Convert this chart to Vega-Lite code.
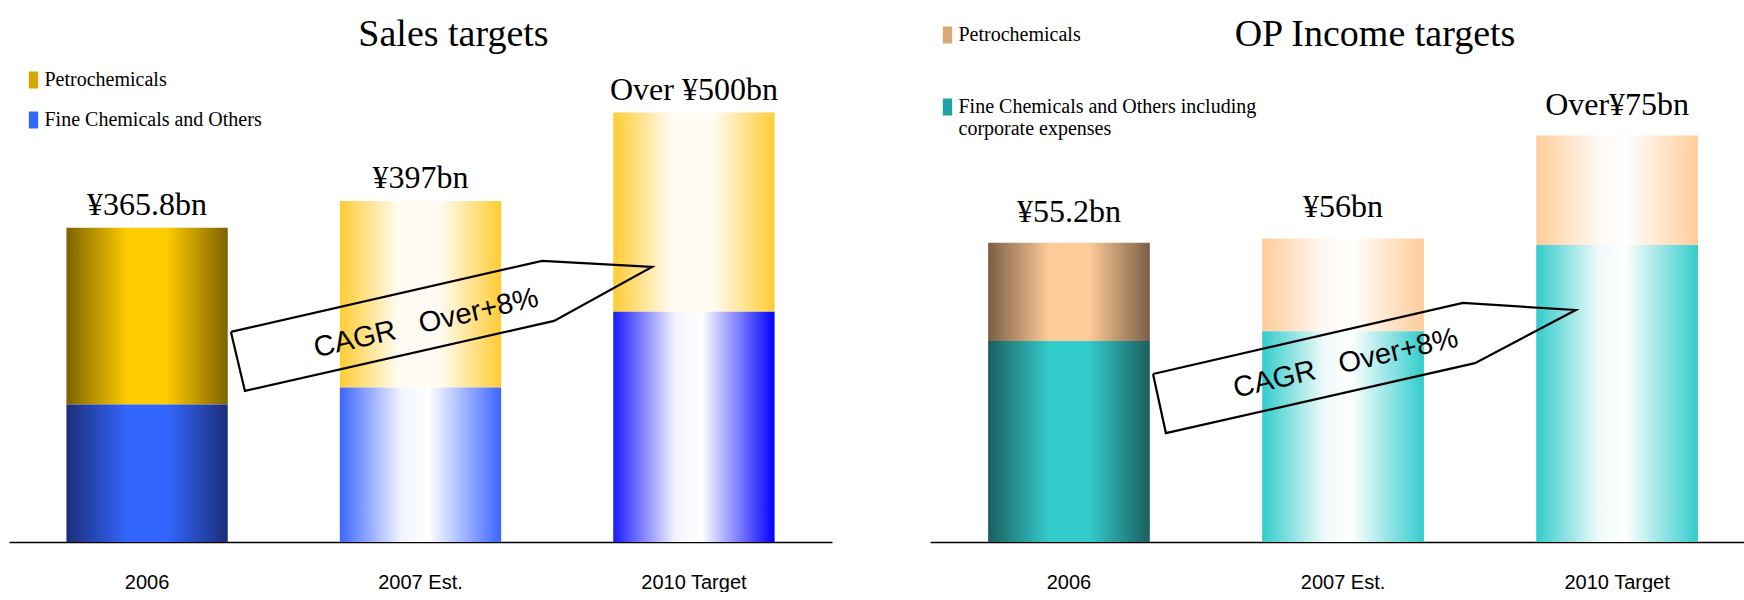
{
  "$schema": "https://vega.github.io/schema/vega-lite/v6.json",
  "background": "white",
  "padding": {"left": 9, "top": 0, "right": 0, "bottom": 0},
  "bounds": "flush",
  "spacing": 98,
  "config": {"view": {"stroke": null}, "font": "Liberation Serif"},
  "datasets": {
    "sales": [
      {"year": "2006", "segment": "Fine Chemicals and Others", "value": 160},
      {"year": "2006", "segment": "Petrochemicals", "value": 205.8},
      {"year": "2007 Est.", "segment": "Fine Chemicals and Others", "value": 180},
      {"year": "2007 Est.", "segment": "Petrochemicals", "value": 217},
      {"year": "2010 Target", "segment": "Fine Chemicals and Others", "value": 268},
      {"year": "2010 Target", "segment": "Petrochemicals", "value": 232}
    ],
    "salesTotals": [
      {"year": "2006", "total": 365.8, "label": "¥365.8bn"},
      {"year": "2007 Est.", "total": 397, "label": "¥397bn"},
      {"year": "2010 Target", "total": 500, "label": "Over ¥500bn"}
    ],
    "salesArrow": [
      {"i": 0, "x": 0.309, "y": 244.6},
      {"i": 1, "x": 1.443, "y": 327.3},
      {"i": 2, "x": 1.844, "y": 320.3},
      {"i": 3, "x": 1.487, "y": 257.4},
      {"i": 4, "x": 0.36, "y": 175.9},
      {"i": 5, "x": 0.309, "y": 244.6}
    ],
    "salesCagr": [{"x": 1.02, "y": 255, "label": "CAGR\u00a0\u00a0\u00a0Over+8%"}],
    "op": [
      {"year": "2006", "segment": "Fine Chemicals and Others including corporate expenses", "value": 37.1},
      {"year": "2006", "segment": "Petrochemicals", "value": 18.1},
      {"year": "2007 Est.", "segment": "Fine Chemicals and Others including corporate expenses", "value": 38.9},
      {"year": "2007 Est.", "segment": "Petrochemicals", "value": 17.1},
      {"year": "2010 Target", "segment": "Fine Chemicals and Others including corporate expenses", "value": 54.8},
      {"year": "2010 Target", "segment": "Petrochemicals", "value": 20.2}
    ],
    "opTotals": [
      {"year": "2006", "total": 55.2, "label": "¥55.2bn"},
      {"year": "2007 Est.", "total": 56, "label": "¥56bn"},
      {"year": "2010 Target", "total": 75, "label": "Over¥75bn"}
    ],
    "opArrow": [
      {"i": 0, "x": 0.307, "y": 31.0},
      {"i": 1, "x": 1.438, "y": 44.1},
      {"i": 2, "x": 1.85, "y": 42.8},
      {"i": 3, "x": 1.482, "y": 33.0},
      {"i": 4, "x": 0.354, "y": 20.1},
      {"i": 5, "x": 0.307, "y": 31.0}
    ],
    "opCagr": [{"x": 1.01, "y": 33.0, "label": "CAGR\u00a0\u00a0\u00a0Over+8%"}]
  },
  "resolve": {
    "scale": {"color": "independent", "y": "independent", "x": "independent"},
    "legend": {"color": "independent"}
  },
  "hconcat": [
    {
      "width": 823,
      "height": 542,
      "title": {"text": "Sales targets", "font": "Liberation Serif", "fontSize": 38, "fontWeight": "normal", "color": "black", "baseline": "alphabetic", "offset": -84, "dx": 33, "anchor": "middle", "frame": "group"},
      "resolve": {"scale": {"x": "independent"}},
      "layer": [
        {
          "data": {"name": "sales"},
          "transform": [
            {"stack": "value", "groupby": ["year"], "sort": [{"field": "segment", "order": "ascending"}], "as": ["y0", "y1"]}
          ],
          "encoding": {
            "x": {
              "field": "year", "type": "nominal", "sort": null,
              "scale": {"domain": ["2006", "2007 Est.", "2010 Target"], "paddingInner": 0.41, "paddingOuter": 0.21},
              "axis": {"title": null, "domain": true, "domainColor": "black", "domainWidth": 1.5, "ticks": false, "tickSize": 0, "grid": false, "labelAngle": 0, "labelPadding": 30, "labelFont": "Liberation Sans", "labelFontSize": 20, "labelColor": "black"}
            }
          },
          "layer": [
            {
              "transform": [{"filter": "datum.year === '2006' && datum.segment === 'Petrochemicals'"}],
              "mark": {"type": "bar", "fill": {"gradient": "linear", "x1": 0, "y1": 0, "x2": 1, "y2": 0, "stops": [{"offset": 0, "color": "#7d6300"}, {"offset": 0.38, "color": "#ffcc00"}, {"offset": 0.62, "color": "#ffcc00"}, {"offset": 1, "color": "#7d6300"}]}},
              "encoding": {"y": {"field": "y1", "type": "quantitative", "scale": {"domain": [0, 631], "nice": false}, "axis": null}, "y2": {"field": "y0"}}
            },
            {
              "transform": [{"filter": "datum.year === '2006' && datum.segment !== 'Petrochemicals'"}],
              "mark": {"type": "bar", "fill": {"gradient": "linear", "x1": 0, "y1": 0, "x2": 1, "y2": 0, "stops": [{"offset": 0, "color": "#1b2e78"}, {"offset": 0.38, "color": "#3366ff"}, {"offset": 0.62, "color": "#3366ff"}, {"offset": 1, "color": "#1b2e78"}]}},
              "encoding": {"y": {"field": "y1", "type": "quantitative", "scale": {"domain": [0, 631], "nice": false}, "axis": null}, "y2": {"field": "y0"}}
            },
            {
              "transform": [{"filter": "datum.year !== '2006' && datum.segment === 'Petrochemicals'"}],
              "mark": {"type": "bar", "fill": {"gradient": "linear", "x1": 0, "y1": 0, "x2": 1, "y2": 0, "stops": [{"offset": 0, "color": "#ffcc33"}, {"offset": 0.36, "color": "#fffbf2"}, {"offset": 0.62, "color": "#fffbf2"}, {"offset": 1, "color": "#ffcc33"}]}},
              "encoding": {"y": {"field": "y1", "type": "quantitative", "scale": {"domain": [0, 631], "nice": false}, "axis": null}, "y2": {"field": "y0"}}
            },
            {
              "transform": [{"filter": "datum.year === '2007 Est.' && datum.segment !== 'Petrochemicals'"}],
              "mark": {"type": "bar", "fill": {"gradient": "linear", "x1": 0, "y1": 0, "x2": 1, "y2": 0, "stops": [{"offset": 0, "color": "#3d66ff"}, {"offset": 0.38, "color": "#f2f4ff"}, {"offset": 0.55, "color": "#ffffff"}, {"offset": 1, "color": "#3d66ff"}]}},
              "encoding": {"y": {"field": "y1", "type": "quantitative", "scale": {"domain": [0, 631], "nice": false}, "axis": null}, "y2": {"field": "y0"}}
            },
            {
              "transform": [{"filter": "datum.year === '2010 Target' && datum.segment !== 'Petrochemicals'"}],
              "mark": {"type": "bar", "fill": {"gradient": "linear", "x1": 0, "y1": 0, "x2": 1, "y2": 0, "stops": [{"offset": 0, "color": "#1a1aff"}, {"offset": 0.38, "color": "#f2f2ff"}, {"offset": 0.55, "color": "#ffffff"}, {"offset": 1, "color": "#0000ff"}]}},
              "encoding": {"y": {"field": "y1", "type": "quantitative", "scale": {"domain": [0, 631], "nice": false}, "axis": null}, "y2": {"field": "y0"}}
            },
            {
              "mark": {"type": "square", "size": 0, "opacity": 1, "filled": true},
              "encoding": {
                "y": {"field": "y1", "type": "quantitative", "scale": {"domain": [0, 631], "nice": false}, "axis": null},
                "color": {
                  "field": "segment", "type": "nominal",
                  "scale": {"domain": ["Petrochemicals", "Fine Chemicals and Others"], "range": ["#d4a800", "#3366ff"]},
                  "legend": {"title": null, "orient": "none", "legendX": 14.5, "legendY": 70, "symbolType": "M-0.55,-1H0.55V1H-0.55Z", "symbolSize": 289, "symbolStrokeWidth": 0, "symbolOpacity": 1, "labelFont": "Liberation Serif", "labelFontSize": 20, "labelColor": "black", "labelOffset": 1, "labelBaseline": "middle", "rowPadding": 20, "labelLimit": 400}
                }
              }
            },
            {
              "data": {"name": "salesTotals"},
              "mark": {"type": "text", "font": "Liberation Serif", "fontSize": 32, "color": "black", "baseline": "middle", "dy": -23},
              "encoding": {
                "y": {"field": "total", "type": "quantitative", "scale": {"domain": [0, 631], "nice": false}, "axis": null},
                "text": {"field": "label"}
              }
            }
          ]
        },
        {
          "layer": [
            {
              "data": {"name": "salesArrow"},
              "mark": {"type": "line", "stroke": "black", "strokeWidth": 2.2, "strokeJoin": "miter"},
              "encoding": {
                "x": {"field": "x", "type": "quantitative", "scale": {"domain": [-0.5, 2.5], "nice": false, "zero": false}, "axis": null},
                "y": {"field": "y", "type": "quantitative", "scale": {"domain": [0, 631], "nice": false}, "axis": null},
                "order": {"field": "i"}
              }
            },
            {
              "data": {"name": "salesCagr"},
              "mark": {"type": "text", "font": "Liberation Sans", "fontSize": 29, "color": "black", "angle": 347, "align": "center", "baseline": "middle"},
              "encoding": {
                "x": {"field": "x", "type": "quantitative", "scale": {"domain": [-0.5, 2.5], "nice": false, "zero": false}, "axis": null},
                "y": {"field": "y", "type": "quantitative", "scale": {"domain": [0, 631], "nice": false}, "axis": null},
                "text": {"field": "label"}
              }
            }
          ]
        }
      ]
    },
    {
      "width": 814,
      "height": 542,
      "title": {"text": "OP Income targets", "font": "Liberation Serif", "fontSize": 38, "fontWeight": "normal", "color": "black", "baseline": "alphabetic", "offset": -84, "dx": 38, "anchor": "middle", "frame": "group"},
      "resolve": {"scale": {"x": "independent"}},
      "layer": [
        {
          "data": {"name": "op"},
          "transform": [
            {"stack": "value", "groupby": ["year"], "sort": [{"field": "segment", "order": "ascending"}], "as": ["y0", "y1"]}
          ],
          "encoding": {
            "x": {
              "field": "year", "type": "nominal", "sort": null,
              "scale": {"domain": ["2006", "2007 Est.", "2010 Target"], "paddingInner": 0.41, "paddingOuter": 0.19, "align": 0.558},
              "axis": {"title": null, "domain": true, "domainColor": "black", "domainWidth": 1.5, "ticks": false, "tickSize": 0, "grid": false, "labelAngle": 0, "labelPadding": 30, "labelFont": "Liberation Sans", "labelFontSize": 20, "labelColor": "black"}
            }
          },
          "layer": [
            {
              "transform": [{"filter": "datum.year === '2006' && datum.segment === 'Petrochemicals'"}],
              "mark": {"type": "bar", "fill": {"gradient": "linear", "x1": 0, "y1": 0, "x2": 1, "y2": 0, "stops": [{"offset": 0, "color": "#7b5e46"}, {"offset": 0.38, "color": "#ffcc99"}, {"offset": 0.62, "color": "#ffcc99"}, {"offset": 1, "color": "#7b5e46"}]}},
              "encoding": {"y": {"field": "y1", "type": "quantitative", "scale": {"domain": [0, 100], "nice": false}, "axis": null}, "y2": {"field": "y0"}}
            },
            {
              "transform": [{"filter": "datum.year === '2006' && datum.segment !== 'Petrochemicals'"}],
              "mark": {"type": "bar", "fill": {"gradient": "linear", "x1": 0, "y1": 0, "x2": 1, "y2": 0, "stops": [{"offset": 0, "color": "#1a5f5f"}, {"offset": 0.38, "color": "#33cccc"}, {"offset": 0.62, "color": "#33cccc"}, {"offset": 1, "color": "#1a5f5f"}]}},
              "encoding": {"y": {"field": "y1", "type": "quantitative", "scale": {"domain": [0, 100], "nice": false}, "axis": null}, "y2": {"field": "y0"}}
            },
            {
              "transform": [{"filter": "datum.year !== '2006' && datum.segment === 'Petrochemicals'"}],
              "mark": {"type": "bar", "fill": {"gradient": "linear", "x1": 0, "y1": 0, "x2": 1, "y2": 0, "stops": [{"offset": 0, "color": "#ffcc99"}, {"offset": 0.38, "color": "#fff8f2"}, {"offset": 0.55, "color": "#ffffff"}, {"offset": 1, "color": "#ffcc99"}]}},
              "encoding": {"y": {"field": "y1", "type": "quantitative", "scale": {"domain": [0, 100], "nice": false}, "axis": null}, "y2": {"field": "y0"}}
            },
            {
              "transform": [{"filter": "datum.year !== '2006' && datum.segment !== 'Petrochemicals'"}],
              "mark": {"type": "bar", "fill": {"gradient": "linear", "x1": 0, "y1": 0, "x2": 1, "y2": 0, "stops": [{"offset": 0, "color": "#33cccc"}, {"offset": 0.38, "color": "#eef9f9"}, {"offset": 0.55, "color": "#ffffff"}, {"offset": 1, "color": "#33cccc"}]}},
              "encoding": {"y": {"field": "y1", "type": "quantitative", "scale": {"domain": [0, 100], "nice": false}, "axis": null}, "y2": {"field": "y0"}}
            },
            {
              "mark": {"type": "square", "size": 0, "opacity": 1, "filled": true},
              "encoding": {
                "y": {"field": "y1", "type": "quantitative", "scale": {"domain": [0, 100], "nice": false}, "axis": null},
                "color": {
                  "field": "segment", "type": "nominal",
                  "scale": {"domain": ["Petrochemicals", "Fine Chemicals and Others including corporate expenses"], "range": ["#d9a878", "#22a3a3"]},
                  "legend": {"title": null, "orient": "none", "legendX": 7.5, "legendY": 25, "symbolType": "M-0.55,-1H0.55V1H-0.55Z", "symbolSize": 289, "symbolStrokeWidth": 0, "symbolOpacity": 1, "labelFont": "Liberation Serif", "labelFontSize": 20, "labelColor": "black", "labelOffset": 1, "labelBaseline": "middle", "rowPadding": 52, "labelLimit": 400,
                    "labelExpr": "datum.label === 'Petrochemicals' ? datum.label : ['Fine Chemicals and Others including', '\u00a0', 'corporate expenses']"}
                }
              }
            },
            {
              "data": {"name": "opTotals"},
              "mark": {"type": "text", "font": "Liberation Serif", "fontSize": 32, "color": "black", "baseline": "middle", "dy": -31},
              "encoding": {
                "y": {"field": "total", "type": "quantitative", "scale": {"domain": [0, 100], "nice": false}, "axis": null},
                "text": {"field": "label"}
              }
            }
          ]
        },
        {
          "layer": [
            {
              "data": {"name": "opArrow"},
              "mark": {"type": "line", "stroke": "black", "strokeWidth": 2.2, "strokeJoin": "miter"},
              "encoding": {
                "x": {"field": "x", "type": "quantitative", "scale": {"domain": [-0.507, 2.464], "nice": false, "zero": false}, "axis": null},
                "y": {"field": "y", "type": "quantitative", "scale": {"domain": [0, 100], "nice": false}, "axis": null},
                "order": {"field": "i"}
              }
            },
            {
              "data": {"name": "opCagr"},
              "mark": {"type": "text", "font": "Liberation Sans", "fontSize": 29, "color": "black", "angle": 347, "align": "center", "baseline": "middle"},
              "encoding": {
                "x": {"field": "x", "type": "quantitative", "scale": {"domain": [-0.507, 2.464], "nice": false, "zero": false}, "axis": null},
                "y": {"field": "y", "type": "quantitative", "scale": {"domain": [0, 100], "nice": false}, "axis": null},
                "text": {"field": "label"}
              }
            }
          ]
        }
      ]
    }
  ]
}
